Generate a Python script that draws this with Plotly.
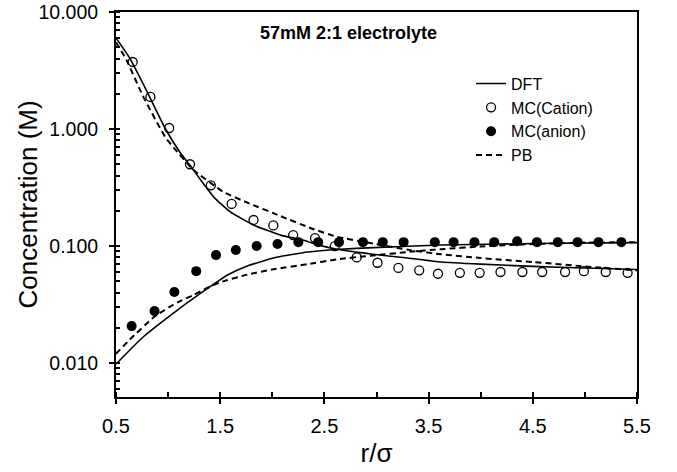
import plotly.graph_objects as go

# ---- data ----
dft_cat_x = [0.50, 0.63, 0.80, 0.97, 1.12, 1.21, 1.32, 1.43, 1.51, 1.60, 1.82, 2.08, 2.30, 2.46, 2.62, 2.80, 2.97, 3.30, 3.62, 4.00, 4.50, 5.00, 5.50]
dft_cat_y = [6.0, 4.05, 2.07, 1.02, 0.62, 0.49, 0.36, 0.268, 0.228, 0.195, 0.151, 0.124, 0.112, 0.101, 0.094, 0.089, 0.085, 0.079, 0.073, 0.070, 0.067, 0.065, 0.063]

dft_an_x = [0.50, 0.76, 1.09, 1.40, 1.57, 1.76, 2.01, 2.34, 2.65, 2.97, 3.62, 4.50, 5.50]
dft_an_y = [0.0098, 0.0167, 0.0284, 0.0447, 0.0565, 0.0675, 0.079, 0.089, 0.094, 0.097, 0.102, 0.105, 0.107]

pb_cat_x = [0.50, 0.60, 0.76, 0.97, 1.05, 1.24, 1.53, 1.76, 2.08, 2.39, 2.62, 2.97, 3.30, 3.62, 4.00, 4.50, 5.00, 5.50]
pb_cat_y = [5.5, 3.9, 1.9, 0.86, 0.70, 0.45, 0.29, 0.235, 0.18, 0.14, 0.12, 0.105, 0.093, 0.085, 0.079, 0.073, 0.067, 0.062]

pb_an_x = [0.50, 0.63, 0.87, 1.09, 1.24, 1.37, 1.50, 1.76, 2.00, 2.34, 2.62, 2.97, 3.30, 3.62, 4.00, 4.50, 5.00, 5.50]
pb_an_y = [0.012, 0.0158, 0.025, 0.033, 0.038, 0.0436, 0.049, 0.057, 0.063, 0.070, 0.077, 0.083, 0.089, 0.094, 0.099, 0.104, 0.107, 0.108]

mc_cat_x = [0.66, 0.83, 1.01, 1.21, 1.41, 1.61, 1.82, 2.01, 2.20, 2.41, 2.60, 2.81, 3.01, 3.21, 3.41, 3.59, 3.80, 3.99, 4.19, 4.40, 4.59, 4.81, 4.99, 5.20, 5.41]
mc_cat_y = [3.74, 1.88, 1.02, 0.50, 0.33, 0.229, 0.167, 0.150, 0.124, 0.117, 0.100, 0.080, 0.072, 0.065, 0.062, 0.058, 0.059, 0.059, 0.060, 0.060, 0.060, 0.060, 0.061, 0.060, 0.059]

mc_an_x = [0.65, 0.87, 1.06, 1.27, 1.46, 1.65, 1.85, 2.05, 2.25, 2.44, 2.64, 2.87, 3.06, 3.26, 3.56, 3.74, 3.94, 4.13, 4.35, 4.54, 4.74, 4.93, 5.13, 5.35]
mc_an_y = [0.0207, 0.0278, 0.0405, 0.061, 0.0837, 0.0924, 0.100, 0.104, 0.108, 0.108, 0.108, 0.108, 0.108, 0.108, 0.108, 0.108, 0.108, 0.108, 0.110, 0.108, 0.108, 0.108, 0.108, 0.108]

x_ticks = [0.5, 1.5, 2.5, 3.5, 4.5, 5.5]
y_ticks = [0.01, 0.1, 1, 10]
y_ticklabels = ["0.010", "0.100", "1.000", "10.000"]

FONT = "Liberation Sans, Arial, sans-serif"

fig = go.Figure()
fig.add_trace(go.Scatter(x=dft_cat_x, y=dft_cat_y, mode="lines", name="DFT",
                         line=dict(color="black", width=1.6, shape="spline", smoothing=0.4)))
fig.add_trace(go.Scatter(x=dft_an_x, y=dft_an_y, mode="lines", name="DFT", showlegend=False,
                         line=dict(color="black", width=1.6, shape="spline", smoothing=0.4)))
fig.add_trace(go.Scatter(x=mc_cat_x, y=mc_cat_y, mode="markers", name="MC(Cation)",
                         marker=dict(symbol="circle-open", size=9, color="black", line=dict(width=1.3))))
fig.add_trace(go.Scatter(x=mc_an_x, y=mc_an_y, mode="markers", name="MC(anion)",
                         marker=dict(symbol="circle", size=10, color="black")))
fig.add_trace(go.Scatter(x=pb_cat_x, y=pb_cat_y, mode="lines", name="PB",
                         line=dict(color="black", width=2, dash="6px,4px", shape="spline", smoothing=0.4)))
fig.add_trace(go.Scatter(x=pb_an_x, y=pb_an_y, mode="lines", name="PB", showlegend=False,
                         line=dict(color="black", width=2, dash="6px,4px", shape="spline", smoothing=0.4)))

fig.update_layout(
    width=677, height=472,
    margin=dict(l=116, r=40, t=12, b=75, autoexpand=False),
    paper_bgcolor="white", plot_bgcolor="white",
    font=dict(family=FONT, color="black", size=20),
    showlegend=True,
    hovermode=False,
    legend=dict(x=0.6815, y=0.858, xanchor="left", yanchor="top",
                bgcolor="rgba(0,0,0,0)", font=dict(size=16, family=FONT),
                tracegroupgap=0, itemwidth=30),
    annotations=[
        dict(text="<b>57mM 2:1 electrolyte</b>", x=0.447, y=0.945,
             xref="paper", yref="paper", xanchor="center", yanchor="middle",
             showarrow=False, font=dict(size=18, family=FONT, color="black")),
        dict(text="Concentration (M)", x=-0.169, y=0.5, textangle=-90,
             xref="paper", yref="paper", xanchor="center", yanchor="middle",
             showarrow=False, font=dict(size=26, family=FONT, color="black")),
    ],
)

fig.update_xaxes(
    range=[0.5, 5.5], tickvals=x_ticks, ticktext=[str(v) for v in x_ticks],
    showgrid=False, zeroline=False, automargin=False,
    showline=True, linecolor="black", linewidth=2, mirror=True,
    ticks="outside", ticklen=5, tickwidth=1.5, tickcolor="black",
    minor=dict(dtick=0.5, tick0=0.5, ticks="inside", ticklen=5, tickwidth=1.5, tickcolor="black", showgrid=False),
    tickfont=dict(size=20, family=FONT),
    ticklabelstandoff=5,
    title=dict(text="r/σ", font=dict(size=26, family=FONT), standoff=8),
)

fig.update_yaxes(
    type="log", range=[-2.29, 1.0],
    tickvals=y_ticks, ticktext=y_ticklabels,
    showgrid=False, zeroline=False, automargin=False,
    showline=True, linecolor="black", linewidth=2, mirror=True,
    ticks="outside", ticklen=5, tickwidth=1.5, tickcolor="black",
    minor=dict(dtick="D1", ticks="inside", ticklen=4, tickwidth=1.5, tickcolor="black", showgrid=False),
    tickfont=dict(size=19.5, family=FONT),
    ticklabelstandoff=7,
)

fig.write_html("out.html", config={"displayModeBar": False},
               post_script="document.body.style.margin='0';")
